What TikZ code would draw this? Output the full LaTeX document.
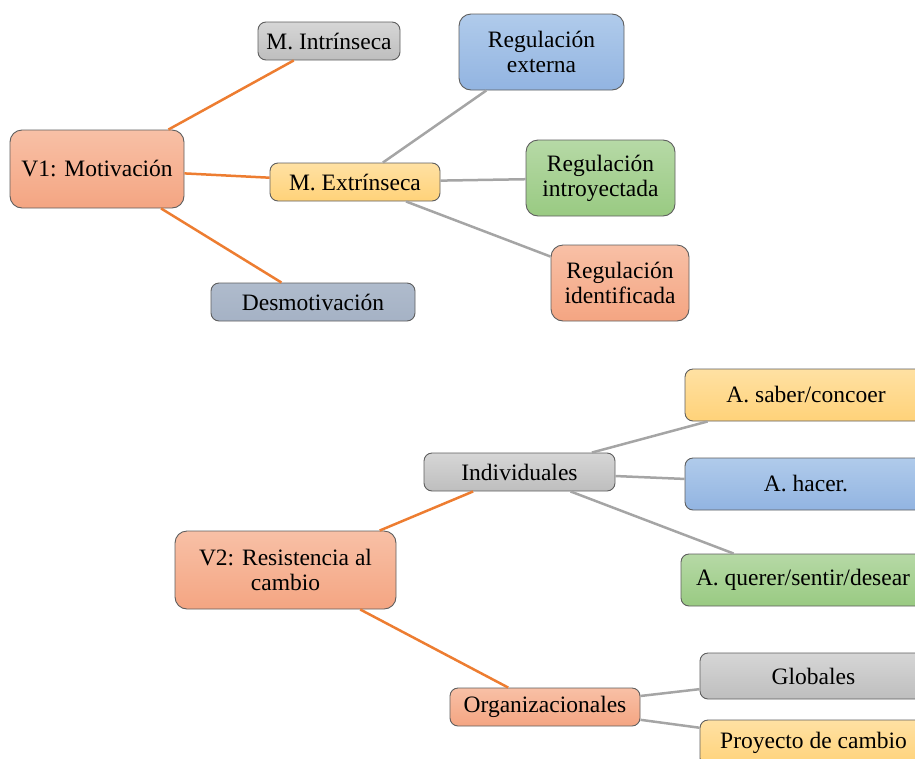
\documentclass[tikz,border=0pt]{standalone}
\usepackage{fontspec}
\setmainfont{Liberation Serif}
\definecolor{salT}{HTML}{F8C0A6}
\definecolor{salB}{HTML}{F4A582}
\definecolor{gryT}{HTML}{D6D6D6}
\definecolor{gryB}{HTML}{BEBEBE}
\definecolor{ylwT}{HTML}{FFE1A3}
\definecolor{ylwB}{HTML}{FFD279}
\definecolor{bluT}{HTML}{B0CBEB}
\definecolor{bluB}{HTML}{92B4E1}
\definecolor{grnT}{HTML}{B6D9A6}
\definecolor{grnB}{HTML}{99CA82}
\definecolor{slaT}{HTML}{AFBBCC}
\definecolor{slaB}{HTML}{A5B2C5}
\definecolor{orln}{HTML}{ED7D31}
\definecolor{grln}{HTML}{A5A5A5}
\definecolor{bord}{HTML}{5E5E5E}
\tikzset{
  box/.style={rectangle, rounded corners=8pt, draw=bord, line width=0.9pt,
    inner sep=0pt, align=center, font=\fontsize{23.5}{25}\selectfont},
  sal/.style={box, top color=salT, bottom color=salB},
  gry/.style={box, top color=gryT, bottom color=gryB},
  ylw/.style={box, top color=ylwT, bottom color=ylwB},
  blu/.style={box, top color=bluT, bottom color=bluB},
  grn/.style={box, top color=grnT, bottom color=grnB},
  sla/.style={box, top color=slaT, bottom color=slaB},
  oline/.style={draw=orln, line width=2.5pt},
  gline/.style={draw=grln, line width=2.5pt}
}
\begin{document}
\begin{tikzpicture}[x=1pt,y=-1pt]
\useasboundingbox (0,0) rectangle (915,758);
\clip (0,0) rectangle (915,758);
% V1 tree
\node[sal, minimum width=174pt, minimum height=78pt, rounded corners=12pt] (v1) at (97,169) {V1: Motivación};
\node[gry, minimum width=142pt, minimum height=38pt] (mi) at (329,41) {M. Intrínseca};
\node[ylw, minimum width=170pt, minimum height=38pt] (me) at (355,182) {M. Extrínseca};
\node[sla, minimum width=204pt, minimum height=38pt] (de) at (313,302) {Desmotivación};
\node[blu, minimum width=165pt, minimum height=76pt, rounded corners=12pt] (rex) at (541.5,52) {Regulación\\externa};
\node[grn, minimum width=149pt, minimum height=76pt, rounded corners=12pt] (rin) at (600.5,178) {Regulación\\introyectada};
\node[sal, minimum width=138pt, minimum height=76pt, rounded corners=12pt] (rid) at (620,283) {Regulación\\identificada};
% V2 tree
\node[sal, minimum width=221pt, minimum height=78pt, rounded corners=12pt] (v2) at (285.5,570) {V2: Resistencia al\\cambio};
\node[gry, minimum width=191pt, minimum height=38pt] (ind) at (519.5,472) {Individuales};
\node[sal, minimum width=190pt, minimum height=38pt] (org) at (545,707) {Organizacionales};
\node[ylw, minimum width=242pt, minimum height=52pt] (sab) at (806,395) {A. saber/concoer};
\node[blu, minimum width=242pt, minimum height=52pt] (hac) at (806,484) {A. hacer.};
\node[grn, minimum width=244pt, minimum height=52pt] (que) at (803,580) {A. querer/sentir/desear};
\node[gry, minimum width=227pt, minimum height=46pt] (glo) at (813.5,676) {Globales};
\node[ylw, minimum width=227pt, minimum height=46pt] (pro) at (813.5,743) {Proyecto de cambio};
% connectors
\draw[oline] (v1) -- (mi);
\draw[oline] (v1) -- (me);
\draw[oline] (v1) -- (de);
\draw[gline] (me) -- (rex);
\draw[gline] (me) -- (rin);
\draw[gline] (me) -- (rid);
\draw[oline] (v2) -- (ind);
\draw[oline] (v2) -- (org);
\draw[gline] (ind) -- (sab);
\draw[gline] (ind) -- (hac);
\draw[gline] (ind) -- (que);
\draw[gline] (org) -- (glo);
\draw[gline] (org) -- (pro);
\end{tikzpicture}
\end{document}
